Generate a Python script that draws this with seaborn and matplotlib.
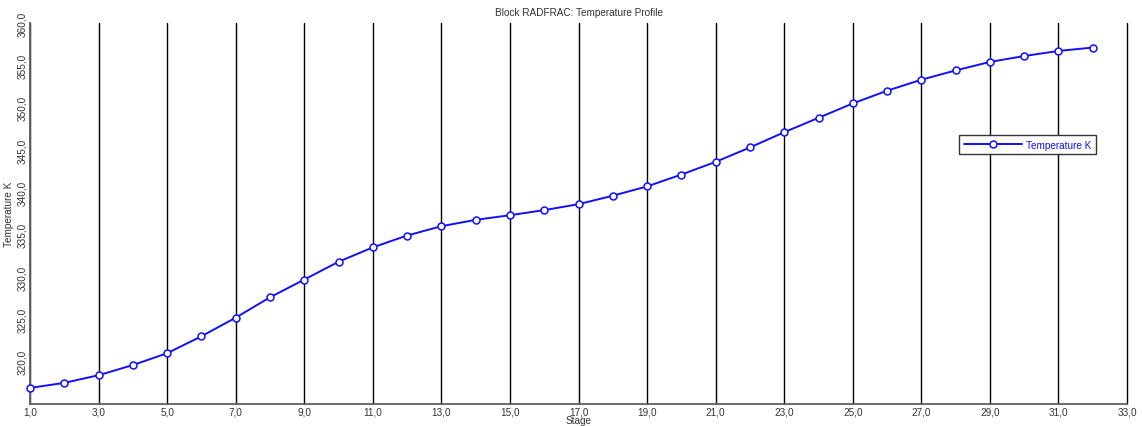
import matplotlib
matplotlib.use("Agg")
import matplotlib.pyplot as plt
import seaborn as sns
import pandas as pd
from matplotlib.ticker import FuncFormatter

# Column temperature profile, stage by stage
stages = list(range(1, 33))
temperature_k = [
    316.9, 317.5, 318.4, 319.6, 321.0, 323.0, 325.2, 327.6, 329.7, 331.8,
    333.5, 334.9, 336.0, 336.75, 337.3, 337.9, 338.6, 339.6, 340.7, 342.1,
    343.6, 345.3, 347.1, 348.8, 350.5, 352.0, 353.3, 354.4, 355.4, 356.1,
    356.7, 357.1,
]
x_ticks = list(range(1, 34, 2))
y_ticks = list(range(320, 361, 5))

df = pd.DataFrame({"Stage": stages, "Temperature K": temperature_k})

sns.set_style("white")
plt.rcParams["font.family"] = ["Liberation Sans", "DejaVu Sans"]

fig = plt.figure(figsize=(11.42, 4.27), dpi=100)
ax = fig.add_axes([0.0263, 0.0515, 0.9606, 0.8923])

line_color = "#1010ff"
sns.lineplot(
    data=df, x="Stage", y="Temperature K", ax=ax,
    color=line_color, linewidth=1.4, marker="o", markersize=5,
    markerfacecolor="white", markeredgecolor=line_color, markeredgewidth=1.1,
    label="Temperature K",
)
for ln in ax.get_lines():
    ln.set_clip_on(False)
    ln.set_zorder(3)

ax.set_xlim(1, 33)
ax.set_ylim(315, 360)
ax.set_xticks(x_ticks)
ax.set_yticks(y_ticks)

comma = FuncFormatter(lambda v, _: f"{v:.1f}".replace(".", ","))
ax.xaxis.set_major_formatter(comma)
ax.yaxis.set_major_formatter(comma)

ax.grid(axis="x", color="black", linewidth=1.0)
ax.grid(axis="y", visible=False)
for gl in ax.get_xgridlines():
    gl.set_clip_on(False)

for side in ("top", "right"):
    ax.spines[side].set_visible(False)
for side in ("left", "bottom"):
    ax.spines[side].set_color("#606060")
    ax.spines[side].set_linewidth(1.3)

ax.tick_params(axis="x", direction="out", length=2, width=1, colors="black",
               labelsize=7.2, labelcolor="#333333", pad=0)
ax.tick_params(axis="y", direction="in", length=3, width=1, colors="black",
               labelsize=7.2, labelcolor="#333333", pad=2)
for lbl in ax.get_yticklabels():
    lbl.set_rotation(90)
    lbl.set_va("center")

ax.set_xlabel("Stage", fontsize=7.2, color="#333333")
ax.xaxis.set_label_coords(0.5, -0.029)
ax.xaxis.label.set_va("top")
ax.set_ylabel("Temperature K", fontsize=7.2, color="#333333", labelpad=2)
ax.set_title("Block RADFRAC: Temperature Profile", fontsize=7.2,
             color="#333333", pad=6)

leg = ax.legend(loc="upper left", bbox_to_anchor=(0.847, 0.706),
                frameon=True, fancybox=False, fontsize=7.2, framealpha=1,
                handlelength=5.8, borderpad=0.45, handletextpad=0.4,
                borderaxespad=0)
leg.set_zorder(10)
leg.get_frame().set_facecolor("white")
leg.get_frame().set_edgecolor("#333333")
leg.get_frame().set_linewidth(1.0)
for txt in leg.get_texts():
    txt.set_color(line_color)

fig.savefig("out.png", dpi=100)
